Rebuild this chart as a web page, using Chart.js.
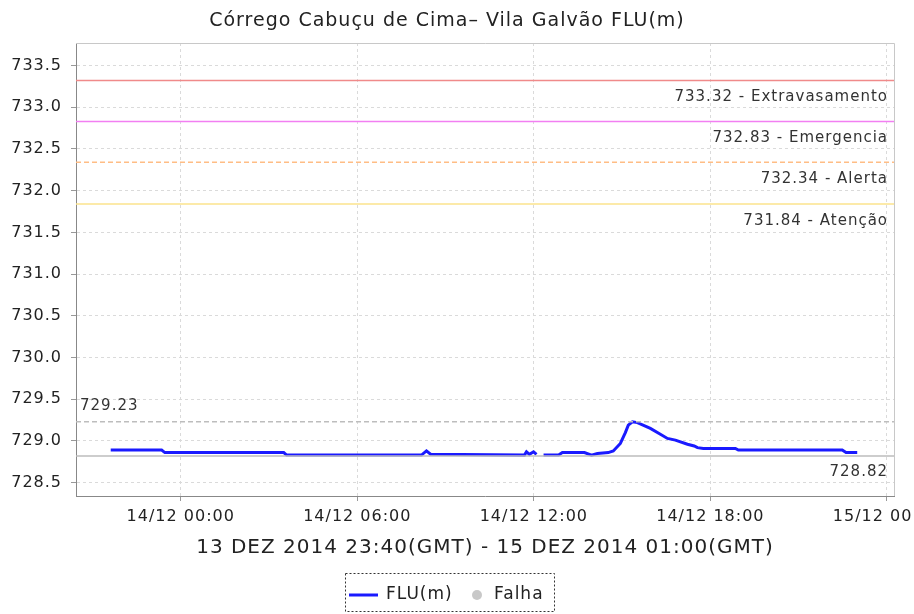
<!DOCTYPE html>
<html>
<head>
<meta charset="utf-8">
<script src="https://cdn.jsdelivr.net/npm/chart.js@4.4.0/dist/chart.umd.min.js"></script>
<style>
    html, body { margin: 0; padding: 0; background: #fff; overflow: hidden; }
    #wrap { width: 914px; height: 614px; }
</style>
</head>
<body>
<div id="wrap"><canvas id="chart" width="914" height="614"></canvas></div>
<script>
    // hours after 14/12 00:00 (local) and the level in metres
    var flowHours = [-2.38, -0.65, -0.54, 3.50, 3.60, 8.18, 8.35, 8.49, 11.68, 11.75,
        11.85, 11.99, 12.09, 12.20, 12.33, 12.84, 12.97, 13.72, 13.96, 14.16,
        14.53, 14.70, 14.94, 15.11, 15.21, 15.35, 15.52, 15.96, 16.30, 16.54,
        16.81, 17.22, 17.45, 17.56, 17.76, 18.85, 18.95, 22.48, 22.61, 22.99];
    var flowLevels = [728.89, 728.89, 728.86, 728.86, 728.83, 728.83, 728.88, 728.84, 728.83, 728.87,
        728.84, 728.87, 728.84, null, 728.83, 728.83, 728.86, 728.86, 728.83, 728.85,
        728.86, 728.88, 728.97, 729.10, 729.19, 729.23, 729.22, 729.15, 729.08, 729.03,
        729.01, 728.96, 728.94, 728.92, 728.91, 728.91, 728.89, 728.89, 728.86, 728.86];

    var thresholdValues = [733.32, 732.83, 732.34, 731.84];
    var thresholdNames = ['Extravasamento', 'Emergencia', 'Alerta', 'Atenção'];
    var thresholdColors = ['#f08a8a', '#f27ff2', '#ffbd85', '#fbe38c'];
    var maxLevel = 729.23;
    var minLevel = 728.82;

    var xTickHours = [0, 6, 12, 18, 24];
    var xTickLabels = ['14/12 00:00', '14/12 06:00', '14/12 12:00', '14/12 18:00', '15/12 00:00'];
    var yTickValues = [728.5, 729.0, 729.5, 730.0, 730.5, 731.0, 731.5, 732.0, 732.5, 733.0, 733.5];

    var xMin = -3.56, xMax = 24.24;
    var yMin = 728.34, yMax = 733.77;

    var font = 'DejaVu Sans';
    Chart.defaults.font.family = font;
    Chart.defaults.color = '#333';

    function flatLine(v) {
        return [{x: xMin, y: v}, {x: xMax, y: v}];
    }

    var datasets = [];
    thresholdValues.forEach(function(v, i) {
        datasets.push({
            data: flatLine(v),
            borderColor: thresholdColors[i],
            borderWidth: 1.5,
            borderDash: i === 2 ? [5, 3] : [],
            pointRadius: 0
        });
    });
    datasets.push({data: flatLine(maxLevel), borderColor: '#bdbdbd', borderWidth: 1.5, borderDash: [5, 3], pointRadius: 0});
    datasets.push({data: flatLine(minLevel), borderColor: '#bdbdbd', borderWidth: 1.5, pointRadius: 0});
    datasets.push({
        data: flowHours.map(function(h, i) { return {x: h, y: flowLevels[i]}; }),
        borderColor: '#1a1aff',
        borderWidth: 3,
        pointRadius: 0,
        tension: 0
    });

    // texts next to the reference lines, plot frame and the legend box
    var decor = {
        id: 'decor',
        beforeLayout: function(chart) {
            chart.ctx.letterSpacing = '1px';
        },
        beforeDraw: function(chart) {
            var ctx = chart.ctx;
            ctx.save();
            ctx.fillStyle = '#fff';
            ctx.fillRect(0, 0, chart.width, chart.height);
            ctx.restore();
            ctx.letterSpacing = '1px';
        },
        afterDatasetsDraw: function(chart) {
            var ctx = chart.ctx, a = chart.chartArea, ys = chart.scales.y;
            ctx.save();
            ctx.strokeStyle = '#c8c8c8';
            ctx.lineWidth = 1;
            ctx.beginPath();
            ctx.moveTo(a.left, a.top + 0.5);
            ctx.lineTo(a.right + 0.5, a.top + 0.5);
            ctx.lineTo(a.right + 0.5, a.bottom);
            ctx.stroke();

            ctx.font = '15px ' + font;
            ctx.fillStyle = '#333';
            ctx.textBaseline = 'middle';
            ctx.textAlign = 'right';
            thresholdValues.forEach(function(v, i) {
                ctx.fillText(v.toFixed(2) + ' - ' + thresholdNames[i], a.right - 6, ys.getPixelForValue(v) + 17);
            });
            ctx.fillText(minLevel.toFixed(2), a.right - 6, ys.getPixelForValue(minLevel) + 16);
            ctx.textAlign = 'left';
            ctx.fillText(maxLevel.toFixed(2), a.left + 4, ys.getPixelForValue(maxLevel) - 16);
            ctx.restore();
        },
        afterDraw: function(chart) {
            var ctx = chart.ctx;
            ctx.save();
            ctx.strokeStyle = '#333';
            ctx.lineWidth = 1;
            ctx.setLineDash([2, 2]);
            ctx.strokeRect(345.5, 573.5, 209, 38);
            ctx.setLineDash([]);
            ctx.strokeStyle = '#1a1aff';
            ctx.lineWidth = 3;
            ctx.beginPath();
            ctx.moveTo(349, 595);
            ctx.lineTo(378, 595);
            ctx.stroke();
            ctx.fillStyle = '#c8c8c8';
            ctx.beginPath();
            ctx.arc(477, 595, 5, 0, Math.PI * 2);
            ctx.fill();
            ctx.font = '17px ' + font;
            ctx.fillStyle = '#222';
            ctx.textBaseline = 'middle';
            ctx.textAlign = 'left';
            ctx.fillText('FLU(m)', 386, 595);
            ctx.fillText('Falha', 494, 595);
            ctx.restore();
        }
    };

    new Chart(document.getElementById('chart').getContext('2d'), {
        type: 'line',
        data: {datasets: datasets},
        plugins: [decor],
        options: {
            responsive: false,
            animation: false,
            devicePixelRatio: 1,
            layout: {padding: {left: 0, right: 20, top: 0, bottom: 54}},
            plugins: {
                legend: {display: false},
                tooltip: {enabled: false},
                title: {
                    display: true,
                    text: 'Córrego Cabuçu de Cima– Vila Galvão FLU(m)',
                    color: '#222',
                    font: {size: 19, weight: 'normal'},
                    padding: {top: 10, bottom: 10.2}
                }
            },
            scales: {
                x: {
                    type: 'linear',
                    min: xMin,
                    max: xMax,
                    afterBuildTicks: function(axis) {
                        axis.ticks = xTickHours.map(function(h) { return {value: h}; });
                    },
                    afterFit: function(axis) {
                        axis.height = 64;
                        axis.paddingLeft = 0;
                        axis.paddingRight = 0;
                    },
                    ticks: {
                        maxRotation: 0,
                        autoSkip: false,
                        padding: 6,
                        font: {size: 16},
                        color: '#222',
                        callback: function(v, i) { return xTickLabels[i]; }
                    },
                    grid: {color: '#dadada', tickLength: 5, tickColor: '#999'},
                    border: {color: '#888', dash: [3, 3]},
                    title: {
                        display: true,
                        text: '13 DEZ 2014 23:40(GMT) - 15 DEZ 2014 01:00(GMT)',
                        color: '#222',
                        font: {size: 20},
                        padding: {top: 0, bottom: 0}
                    }
                },
                y: {
                    min: yMin,
                    max: yMax,
                    afterBuildTicks: function(axis) {
                        axis.ticks = yTickValues.map(function(v) { return {value: v}; });
                    },
                    afterFit: function(axis) {
                        axis.width = 76;
                        axis.paddingTop = 0;
                        axis.paddingBottom = 0;
                    },
                    ticks: {
                        padding: 9,
                        font: {size: 16},
                        color: '#222',
                        callback: function(v) { return v.toFixed(1); }
                    },
                    grid: {color: '#dadada', tickLength: 5, tickColor: '#999'},
                    border: {color: '#888', dash: [3, 3]}
                }
            }
        }
    });
</script>
</body>
</html>
